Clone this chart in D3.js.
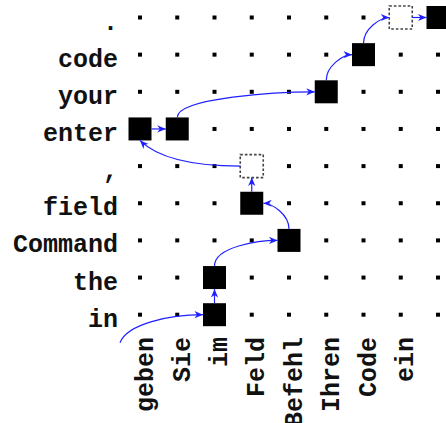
<!DOCTYPE html>
<html>
<head>
<meta charset="utf-8">
<script src="https://cdn.jsdelivr.net/npm/d3@7/dist/d3.min.js"></script>
<style>
  body { margin: 0; background: #fff; }
  svg { display: block; }
  text { font-family: "Courier New", "Liberation Mono", monospace; font-weight: bold; font-size: 25px; fill: #111; }
</style>
</head>
<body>
<svg id="canvas" width="446" height="423"></svg>
<script>
// rows = source words (top to bottom), cols = target words
const rowWords = [".", "code", "your", "enter", ",", "field", "Command", "the", "in"]
const colWords = ["geben", "Sie", "im", "Feld", "Befehl", "Ihren", "Code", "ein", "."]

// alignment path, in reading order
const pathSrc = ["in", "the", "Command", "field", ",", "enter", "enter", "your", "code", ".", "."]
const pathTgt = ["im", "im", "Befehl", "Feld", "Feld", "geben", "Sie", "Ihren", "Code", "ein", "."]
const pathKind = ["solid", "solid", "solid", "solid", "dotted", "solid", "solid", "solid", "solid", "dotted", "solid"]

const svg = d3.select('#canvas')
const x = d3.scalePoint().domain(colWords).range([140, 438])
const y = d3.scalePoint().domain(rowWords).range([17.5, 314.7])
const half = 11.5
const blue = "#1f1fff"

svg.append("defs").append("marker")
  .attr("id", "tip")
  .attr("viewBox", "-9 -5 10 10")
  .attr("refX", 0).attr("refY", 0)
  .attr("markerWidth", 10).attr("markerHeight", 10)
  .attr("markerUnits", "userSpaceOnUse")
  .attr("orient", "auto")
  .append("path")
  .attr("d", "M0,0 L-8.5,-3.6 L-6,0 L-8.5,3.6 Z")
  .attr("fill", blue)

// grid dots
const cells = d3.cross(rowWords, colWords)
svg.append("g").selectAll("rect")
  .data(cells)
  .enter()
  .append("rect")
  .attr("x", d => x(d[1]) - 2)
  .attr("y", d => y(d[0]) - 2)
  .attr("width", 4)
  .attr("height", 4)
  .attr("fill", "#000")

// row labels
svg.append("g").selectAll("text")
  .data(rowWords)
  .enter()
  .append("text")
  .attr("x", 118)
  .attr("y", d => y(d) + 12)
  .attr("text-anchor", "end")
  .text(d => d)

// column labels
svg.append("g").selectAll("text")
  .data(colWords)
  .enter()
  .append("text")
  .attr("transform", d => `translate(${x(d) + 12.5},337) rotate(-90)`)
  .attr("text-anchor", "end")
  .text(d => d)

const steps = pathSrc.map((s, i) => ({
  row: s, col: pathTgt[i], kind: pathKind[i],
  ri: rowWords.indexOf(s), ci: colWords.indexOf(pathTgt[i]),
  cx: x(pathTgt[i]), cy: y(s)
}))

// alignment boxes
svg.append("g").selectAll("rect")
  .data(steps)
  .enter()
  .append("rect")
  .attr("x", d => d.cx - half)
  .attr("y", d => d.cy - half)
  .attr("width", half * 2)
  .attr("height", half * 2)
  .attr("fill", d => d.kind == "solid" ? "#000" : "#fff")
  .attr("stroke", d => d.kind == "solid" ? "none" : "#444")
  .attr("stroke-width", 1.6)
  .attr("stroke-dasharray", d => d.kind == "solid" ? null : "2.6,2")

// arrows between consecutive boxes
const curve = (p0, c1, c2, p1) => {
  const p = d3.path()
  p.moveTo(p0[0], p0[1])
  p.bezierCurveTo(c1[0], c1[1], c2[0], c2[1], p1[0], p1[1])
  return p.toString()
}

const edgePath = (a, b) => {
  const dx = b.ci - a.ci, dy = b.ri - a.ri
  if (dy == 0) return `M${a.cx + half},${a.cy}L${b.cx - half},${b.cy}`
  if (dx == 0) return `M${a.cx},${a.cy - half}L${b.cx},${b.cy + half}`
  if (dx > 0) {
    const p0 = [a.cx, a.cy - half], p1 = [b.cx - half, b.cy]
    const d = Math.hypot(p1[0] - p0[0], p1[1] - p0[1])
    return curve(p0, [p0[0], p0[1] - Math.min(0.39 * d, 20)], [p1[0] - 0.25 * d, p1[1]], p1)
  }
  if (dx == -1) {
    const p0 = [a.cx, a.cy - half], p1 = [b.cx + half, b.cy]
    return curve(p0, [p0[0], p0[1] - 14], [p1[0] + 9, p1[1]], p1)
  }
  const p0 = [a.cx - half, a.cy], p1 = [b.cx, b.cy + half]
  return curve(p0, [p0[0] - 40, p0[1]], [p1[0] + 20, p1[1] + 20], p1)
}

const edges = d3.pairs(steps)
svg.append("g").selectAll("path")
  .data(edges)
  .enter()
  .append("path")
  .attr("d", d => edgePath(d[0], d[1]))
  .attr("fill", "none")
  .attr("stroke", blue)
  .attr("stroke-width", 1.2)
  .attr("marker-end", "url(#tip)")

// entry arrow into the first box
const first = steps[0]
const s0 = [x(colWords[0]) - 20, first.cy + 28]
const s1 = [first.cx - half, first.cy]
svg.append("path")
  .attr("d", curve(s0, [s0[0] + 7, s0[1] - 19], [s1[0] - 33, s1[1]], s1))
  .attr("fill", "none")
  .attr("stroke", blue)
  .attr("stroke-width", 1.2)
  .attr("marker-end", "url(#tip)")
</script>
</body>
</html>
